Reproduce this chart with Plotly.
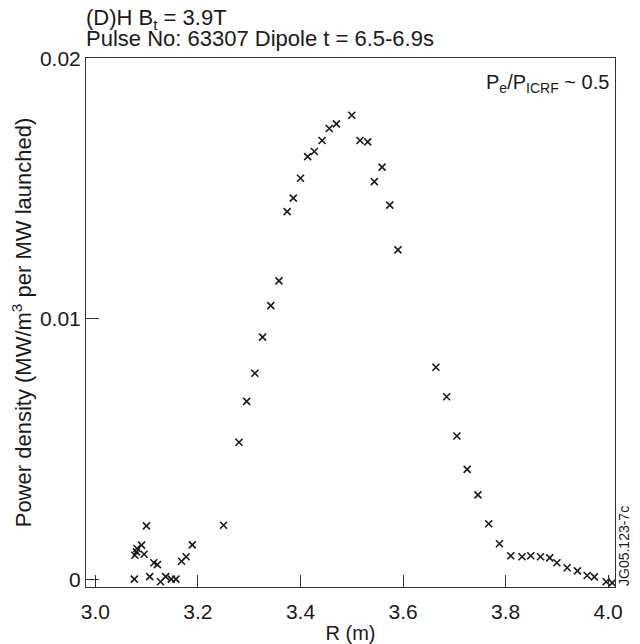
import plotly.graph_objects as go

# Data
R_m = [3.076, 3.077, 3.080, 3.081, 3.090, 3.095, 3.0995, 3.106, 3.114, 3.121,
       3.127, 3.137, 3.148, 3.157, 3.168, 3.177, 3.189, 3.250, 3.280, 3.295,
       3.311, 3.326, 3.342, 3.358, 3.374, 3.386, 3.400, 3.414, 3.427, 3.442,
       3.456, 3.470, 3.500, 3.516, 3.531, 3.544, 3.559, 3.574, 3.590, 3.664,
       3.685, 3.705, 3.725, 3.746, 3.767, 3.788, 3.810, 3.832, 3.849, 3.868,
       3.886, 3.900, 3.920, 3.940, 3.959, 3.973, 3.996, 4.008]
power_density = [0.0000, 0.00092, 0.00105, 0.00118, 0.00131, 0.00096, 0.00205, 0.0001, 0.00063, 0.00056,
                 -0.0001, 0.0001, 0.0000, 0.0000, 0.00069, 0.00086, 0.00132, 0.00207, 0.00526, 0.00683,
                 0.00791, 0.0093, 0.01051, 0.01146, 0.01412, 0.01464, 0.0154, 0.01623, 0.01643, 0.01685,
                 0.01731, 0.01749, 0.01782, 0.01685, 0.0168, 0.01527, 0.01583, 0.01437, 0.01265, 0.00814,
                 0.00701, 0.0055, 0.00422, 0.00324, 0.00213, 0.00136, 0.0009, 0.00086, 0.0009, 0.00086,
                 0.00082, 0.00063, 0.00044, 0.00032, 0.00014, 0.00009, -0.0001, -0.00014]

x_tick_values = [3.0, 3.2, 3.4, 3.6, 3.8, 4.0]
x_tick_labels = ["3.0", "3.2", "3.4", "3.6", "3.8", "4.0"]
y_tick_values = [0, 0.01, 0.02]
y_tick_labels = ["0", "0.01", "0.02"]

title_lines = ["(D)H B<sub>t</sub> = 3.9T", "Pulse No: 63307 Dipole t = 6.5-6.9s"]

FONT = "Liberation Sans, Arial, Helvetica, sans-serif"
INK = "#1a1a1a"

fig = go.Figure()
fig.add_trace(go.Scatter(
    x=R_m, y=power_density, mode="markers",
    marker=dict(symbol="x-thin", size=7, line=dict(width=1.6, color=INK), color=INK),
    showlegend=False, hoverinfo="x+y",
))

# The page body has an 8px default margin, so the figure is sized to fill the rest of the window
fig.update_layout(
    width=632, height=636,
    margin=dict(l=78, r=25, t=50, b=57, autoexpand=False),
    paper_bgcolor="white", plot_bgcolor="white",
    font=dict(family=FONT, color=INK, size=20),
)

fig.update_xaxes(
    range=[2.9817, 4.0133], automargin=False,
    tickvals=x_tick_values, ticktext=x_tick_labels,
    ticks="inside", ticklen=12, tickwidth=1, tickcolor="#333",
    showline=True, linecolor="#333", linewidth=1, mirror=True,
    showgrid=False, zeroline=False,
    tickfont=dict(size=21), ticklabelstandoff=6,
    title=dict(text="R (m)", font=dict(size=20), standoff=5),
)
fig.update_yaxes(
    range=[-0.0003, 0.02002], automargin=False,
    tickvals=y_tick_values, ticktext=y_tick_labels,
    ticks="inside", ticklen=13, tickwidth=1, tickcolor="#333",
    showline=True, linecolor="#333", linewidth=1, mirror=True,
    showgrid=False, zeroline=False,
    tickfont=dict(size=21),
    title=dict(text="Power density (MW/m<sup>3</sup> per MW launched)", font=dict(size=22), standoff=4),
)

# Two title lines, left aligned with the plot's left edge
title_shifts = [24, 6]
for line, shift in zip(title_lines, title_shifts):
    fig.add_annotation(
        text=line, xref="paper", yref="paper", x=0, y=1,
        xanchor="left", yanchor="bottom", yshift=shift, xshift=-1,
        borderpad=0, showarrow=False, font=dict(size=22, color=INK),
    )

fig.add_annotation(
    text="P<sub>e</sub>/P<sub>ICRF</sub> ~ 0.5",
    xref="paper", yref="paper", x=0.992, y=0.98,
    xanchor="right", yanchor="top", showarrow=False,
    font=dict(size=20, color=INK),
)
fig.add_annotation(
    text="JG05.123-7c",
    xref="paper", yref="paper", x=1.0, y=0.0,
    xanchor="left", yanchor="bottom", xshift=0, textangle=-90,
    borderpad=0, showarrow=False, font=dict(size=14, color=INK),
)

fig.write_html("out.html")
